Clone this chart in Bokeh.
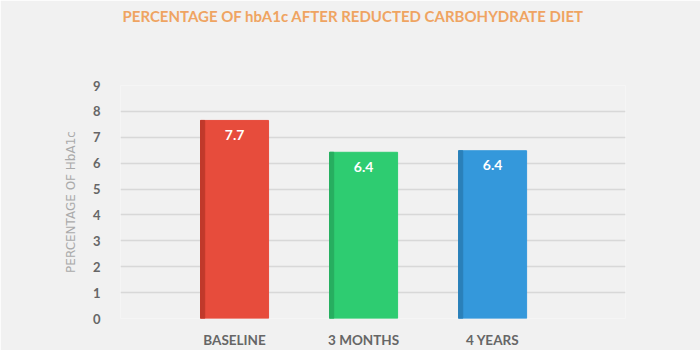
from bokeh.plotting import figure
from bokeh.models import FixedTicker, Range1d, ColumnDataSource, Title
from bokeh.embed import file_html
from bokeh.resources import INLINE
from bokeh.core.properties import value

title_text = "PERCENTAGE OF hbA1c AFTER REDUCTED CARBOHYDRATE DIET"
categories = ["BASELINE", "3 MONTHS", "4 YEARS"]
values = [7.65, 6.42, 6.48]
value_labels = ["7.7", "6.4", "6.4"]
colors = ["#E74C3C", "#2ECC71", "#3498DB"]
dark_colors = ["#C0392B", "#27AE60", "#2A80B9"]
y_ticks = [0, 1, 2, 3, 4, 5, 6, 7, 8, 9]

xs = [1, 2, 3]
bw = 0.527
strip = 0.032
src = ColumnDataSource(dict(
    x=xs, top=values, color=colors, dark=dark_colors, lab=value_labels,
    xs=[x - bw / 2 + strip / 2 for x in xs],
    ylab=[v - 0.55 for v in values],
))

p = figure(width=700, height=350, output_backend="svg", toolbar_location=None,
           x_range=Range1d(0.116, 4.03), y_range=Range1d(0, 9),
           min_border_left=120, min_border_right=75, min_border_top=85, min_border_bottom=29)
p.background_fill_color = "#F1F1F1"
p.border_fill_color = "#F1F1F1"
p.outline_line_color = None
p.title.text = ""

spacer = Title(text=" ", text_font_size="1px", standoff=58, text_color="#F1F1F1")
main_title = Title(text=title_text, align="left", offset=2, standoff=0,
                   text_color="#EFA462", text_font="Lato", text_font_style="bold",
                   text_font_size="15px")
p.add_layout(spacer, "above")
p.add_layout(main_title, "above")

p.vbar(x="x", top="top", width=bw, color="color", source=src)
p.vbar(x="xs", top="top", width=strip, color="dark", source=src)
p.text(x="x", y="ylab", text="lab", source=src, text_align="center", text_baseline="middle",
       text_color="white", text_font=value("Lato"), text_font_style="bold", text_font_size="14px")

p.xaxis.ticker = FixedTicker(ticks=xs)
p.xaxis.major_label_overrides = {x: c for x, c in zip(xs, categories)}
p.xaxis.axis_line_color = None
p.xaxis.major_tick_line_color = None
p.xaxis.minor_tick_line_color = None
p.xaxis.major_label_text_color = "#666666"
p.xaxis.major_label_text_font = "Lato"
p.xaxis.major_label_text_font_style = "bold"
p.xaxis.major_label_text_font_size = "13.5px"
p.xaxis.major_label_standoff = 7

p.yaxis.ticker = FixedTicker(ticks=y_ticks)
p.yaxis.axis_line_color = None
p.yaxis.major_tick_line_color = None
p.yaxis.minor_tick_line_color = None
p.yaxis.major_label_text_color = "#666666"
p.yaxis.major_label_text_font = "Lato"
p.yaxis.major_label_text_font_style = "bold"
p.yaxis.major_label_text_font_size = "13px"
p.yaxis.major_label_standoff = 14
p.yaxis.axis_label = "PERCENTAGE OF HbA1c"
p.yaxis.axis_label_text_color = "#AAAAAA"
p.yaxis.axis_label_text_font = "DejaVu Sans"
p.yaxis.axis_label_text_font_style = "normal"
p.yaxis.axis_label_text_font_size = "12px"
p.yaxis.axis_label_standoff = 12

p.xgrid.grid_line_color = None
p.ygrid.grid_line_color = "#D8D8D8"
p.ygrid.grid_line_width = 1.5

open("out.html", "w").write(file_html(p, INLINE))
